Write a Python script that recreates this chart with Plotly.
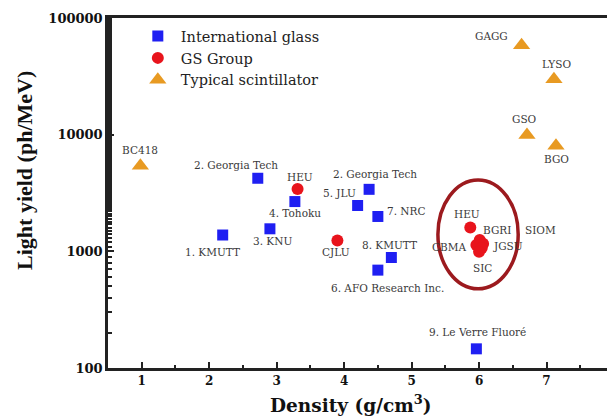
import math
import plotly.graph_objects as go

# ---- data ----
glass_names = ["1. KMUTT", "2. Georgia Tech", "3. KNU", "4. Tohoku", "5. JLU",
               "2. Georgia Tech", "7. NRC", "8. KMUTT", "6. AFO Research Inc.", "9. Le Verre Fluoré"]
glass_density = [2.20, 2.72, 2.90, 3.27, 4.20, 4.37, 4.50, 4.70, 4.50, 5.96]
glass_yield = [1380, 4230, 1560, 2670, 2470, 3400, 1990, 885, 690, 146]

gs_names = ["HEU", "CJLU", "HEU", "BGRI", "SIOM", "CBMA", "JGSU", "SIC"]
gs_density = [3.31, 3.90, 5.87, 6.01, 6.06, 5.96, 6.04, 6.00]
gs_yield = [3420, 1240, 1600, 1250, 1160, 1135, 1070, 990]

sc_names = ["BC418", "GAGG", "LYSO", "GSO", "BGO"]
sc_density = [0.98, 6.63, 7.11, 6.71, 7.14]
sc_yield = [5420, 58400, 29900, 9930, 8030]

x_ticks = [1, 2, 3, 4, 5, 6, 7, 8]
y_ticks = [100, 1000, 10000, 100000]

# ---- label offsets (pixels: dx right, dy up) ----
glass_off = [(-10, -17), (-22, 13), (3, -12), (0, -11), (-18, 13),
             (6, 15), (28, 5), (-2, 13), (10, -18), (1, 17)]
gs_off = [(2, 12), (-1, -12), (-3, 14), (17, 10), (57, 14), (-27, -2), (26, 2), (3, -16)]
sc_off = [(0, 16), (-30, 9), (3, 15), (-2, 16), (1, -13)]

SERIF = "DejaVu Serif"
TIMES = "Liberation Serif"

fig = go.Figure()
fig.add_trace(go.Scatter(x=glass_density, y=glass_yield, mode="markers", name="International glass",
                         marker=dict(symbol="square", size=11, color="#1f1ff2")))
fig.add_trace(go.Scatter(x=gs_density, y=gs_yield, mode="markers", name="GS Group",
                         marker=dict(symbol="circle", size=12, color="#e8141c")))
fig.add_trace(go.Scatter(x=sc_density, y=sc_yield, mode="markers", name="Typical scintillator",
                         marker=dict(symbol="triangle-up", size=15, color="#e89a22")))

anns = []
for names, xs, ys, offs in [(glass_names, glass_density, glass_yield, glass_off),
                            (gs_names, gs_density, gs_yield, gs_off),
                            (sc_names, sc_density, sc_yield, sc_off)]:
    for n, x, y, (dx, dy) in zip(names, xs, ys, offs):
        anns.append(dict(x=x, y=math.log10(y), text=n, showarrow=False,
                         xshift=dx, yshift=dy,
                         font=dict(family=SERIF, size=10.5, color="#3a3a3a")))

# axis titles
anns.append(dict(xref="paper", yref="paper", x=0.481, y=-0.103, xanchor="center", yanchor="middle",
                 text="<b>Density (g/cm<sup>3</sup>)</b>", showarrow=False,
                 font=dict(family=SERIF, size=18.5, color="#111")))
anns.append(dict(xref="paper", yref="paper", x=-0.164, y=0.563, xanchor="center", yanchor="middle",
                 text="<b>Light yield (ph/MeV)</b>", showarrow=False, textangle=-90,
                 font=dict(family=TIMES, size=22, color="#111")))

# ellipse around the cluster of GS group points near density 6
cl_x = gs_density[2:]
cl_y = gs_yield[2:]
fig.add_shape(type="circle", xref="x", yref="y",
              x0=min(cl_x) - 0.48, x1=max(cl_x) + 0.52,
              y0=min(cl_y) / 10 ** 0.317, y1=max(cl_y) * 10 ** 0.408,
              line=dict(color="#9c1a1e", width=3.5))

fig.update_layout(
    width=607, height=410,
    margin=dict(l=100, r=1, t=10, b=50),
    paper_bgcolor="white", plot_bgcolor="white",
    annotations=anns,
    legend=dict(x=0.053, y=0.994, xanchor="left", yanchor="top",
                font=dict(family=SERIF, size=14.5, color="#222"),
                bgcolor="rgba(0,0,0,0)", tracegroupgap=0, itemwidth=36),
    xaxis=dict(range=[0.5, 8], tickvals=x_ticks, ticktext=[f"<b>{v}</b>" for v in x_ticks],
               automargin=False, ticklabeloverflow="allow",
               showgrid=False, zeroline=False, showline=True, mirror=True,
               linecolor="#222", linewidth=2.5, ticks="inside", ticklen=6, tickwidth=2,
               tickcolor="#222",
               minor=dict(ticks="inside", ticklen=3, tickwidth=2, dtick=0.5, tickcolor="#222"),
               tickfont=dict(family=SERIF, size=12, color="#111")),
    yaxis=dict(type="log", range=[2, 5], tickvals=y_ticks,
               ticktext=[f"<b>{v}</b>" for v in y_ticks],
               automargin=False,
               showgrid=False, zeroline=False, showline=True, mirror=True,
               linecolor="#222", linewidth=2.5, ticks="inside", ticklen=6, tickwidth=2,
               tickcolor="#222",
               minor=dict(ticks="inside", ticklen=4, tickwidth=1.5, tickcolor="#222"),
               tickfont=dict(family=SERIF, size=13, color="#111")),
)

fig.write_html("out.html")
